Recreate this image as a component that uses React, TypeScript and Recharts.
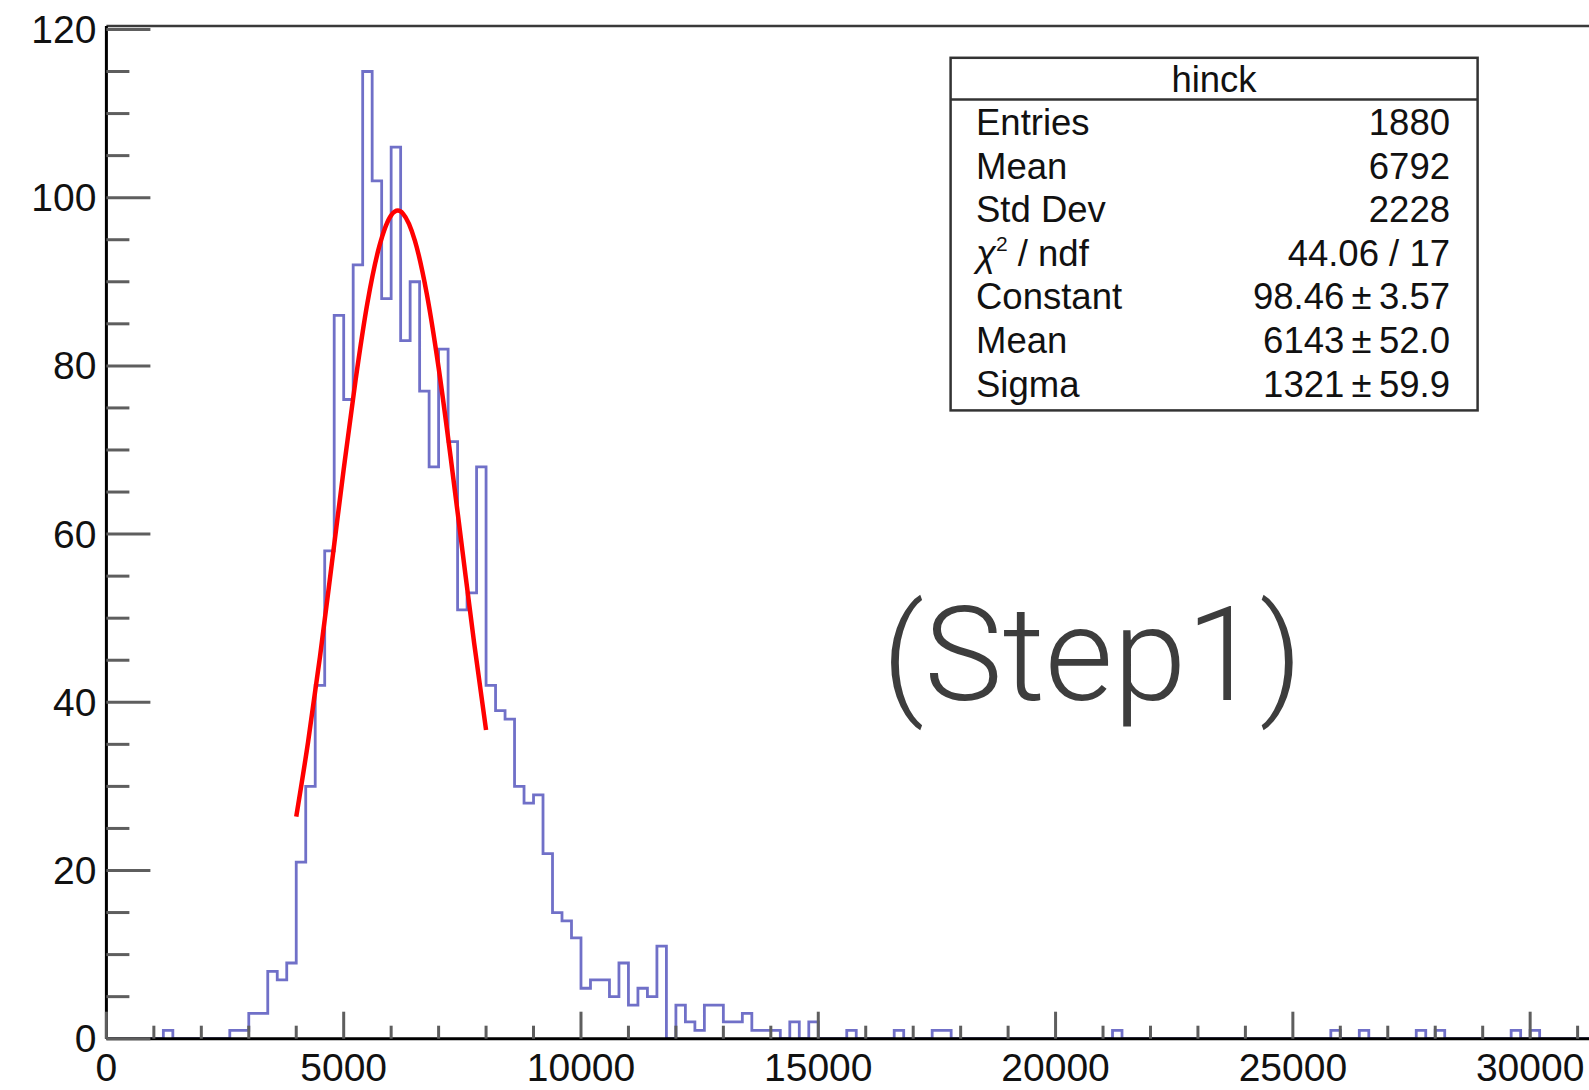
import React from "react";
import { ComposedChart, Line, XAxis, YAxis, ReferenceLine } from "recharts";

// ---- data ----
const binWidth = 200; // histogram bin width
// counts per bin, bins starting at 0, 200, 400, ...
const counts = [
  0, 0, 0, 0, 0, 0, 1, 0, 0, 0,
  0, 0, 0, 1, 1, 3, 3, 8, 7, 9,
  21, 30, 42, 58, 86, 76, 92, 115, 102, 88,
  106, 83, 90, 77, 68, 82, 71, 51, 53, 68,
  42, 39, 38, 30, 28, 29, 22, 15, 14, 12,
  6, 7, 7, 5, 9, 4, 6, 5, 11, 0,
  4, 2, 1, 4, 4, 2, 2, 3, 1, 1,
  1, 0, 2, 0, 2, 0, 0, 0, 1, 0,
  0, 0, 0, 1, 0, 0, 0, 1, 1, 0,
  0, 0, 0, 0, 0, 0, 0, 0, 0, 0,
  0, 0, 0, 0, 0, 0, 1, 0, 0, 0,
  0, 0, 0, 0, 0, 0, 0, 0, 0, 0,
  0, 0, 0, 0, 0, 0, 0, 0, 0, 1,
  0, 0, 1, 0, 0, 0, 0, 0, 1, 0,
  1, 0, 0, 0, 0, 0, 0, 0, 1, 0,
  1, 0, 0, 0, 0, 0, 0,
];

// red fit curve
const fitX = [4000, 4250, 4500, 4750, 5000, 5250, 5500, 5750, 6000, 6143, 6250, 6500, 6750, 7000, 7250, 7500, 7750, 8000];
const fitY = [26.4, 35.3, 45.4, 56.5, 67.7, 78.3, 87.5, 94.2, 97.9, 98.46, 98.1, 94.9, 88.6, 79.8, 69.3, 58.1, 47.0, 36.7];

const xTicks = [
  0, 1000, 2000, 3000, 4000, 5000, 6000, 7000, 8000, 9000, 10000,
  11000, 12000, 13000, 14000, 15000, 16000, 17000, 18000, 19000, 20000,
  21000, 22000, 23000, 24000, 25000, 26000, 27000, 28000, 29000, 30000, 31000,
];
const yTicks = [0, 5, 10, 15, 20, 25, 30, 35, 40, 45, 50, 55, 60, 65, 70, 75, 80, 85, 90, 95, 100, 105, 110, 115, 120];

const statsTitle = "hinck";
const statsLabels = ["Entries", "Mean", "Std Dev", "CHI", "Constant", "Mean", "Sigma"];
const statsValues = ["1880", "6792", "2228", "44.06 / 17", "98.46\u2009\u00b1\u20093.57", "6143\u2009\u00b1\u200952.0", "1321\u2009\u00b1\u200959.9"];

// ---- built tables ----
const histData = counts.map((c, i) => ({ x: i * binWidth, h: c }));
histData.push({ x: counts.length * binWidth, h: counts[counts.length - 1] });
const fitData = fitX.map((x, i) => ({ x, f: fitY[i] }));

const FONT = "'Liberation Sans', Arial, Helvetica, sans-serif";
const TICK_COLOR = "#5e5e5e";
const LABEL_SIZE = 39;

const YTick = (props: any) => {
  const { x, y, payload } = props;
  const v = payload.value as number;
  const major = v % 20 === 0;
  return (
    <g>
      <line x1={x} x2={x + (major ? 44 : 23)} y1={y} y2={y} stroke={TICK_COLOR} strokeWidth={3} />
      {major && (
        <text x={x - 10} y={y + 13.5} textAnchor="end" fontSize={LABEL_SIZE} fontFamily={FONT} fill="#111">
          {v}
        </text>
      )}
    </g>
  );
};

const XTick = (props: any) => {
  const { x, y, payload } = props;
  const v = payload.value as number;
  const major = v % 5000 === 0;
  return (
    <g>
      <line x1={x} x2={x} y1={y} y2={y - (major ? 27 : 13)} stroke={TICK_COLOR} strokeWidth={3} />
      {major && (
        <text x={x} y={y + 42} textAnchor="middle" fontSize={LABEL_SIZE} fontFamily={FONT} fill="#111">
          {v}
        </text>
      )}
    </g>
  );
};

const yMax = 120.4;
const xMax = 31240;

export default function App() {
  return (
    <div style={{ position: "absolute", left: 0, top: 0, width: 1589, height: 1090, background: "#fff" }}>
      <ComposedChart
        width={1589}
        height={1090}
        data={histData}
        margin={{ top: 26.1, right: 0, bottom: 11.3, left: 0 }}
      >
        <XAxis
          type="number"
          dataKey="x"
          domain={[0, xMax]}
          ticks={xTicks}
          interval={0}
          allowDataOverflow
          height={40}
          tickSize={0}
          tickMargin={0}
          tickLine={false}
          axisLine={{ stroke: "#000", strokeWidth: 3 }}
          tick={<XTick />}
        />
        <YAxis
          type="number"
          domain={[0, yMax]}
          ticks={yTicks}
          interval={0}
          allowDataOverflow
          width={106.4}
          tickSize={0}
          tickMargin={0}
          tickLine={false}
          axisLine={{ stroke: "#000", strokeWidth: 3 }}
          tick={<YTick />}
        />
        <ReferenceLine y={yMax} stroke="#3a3a3a" strokeWidth={2.5} ifOverflow="visible" />
        <Line
          dataKey="h"
          type="stepAfter"
          stroke="#7070c8"
          strokeWidth={2.8}
          dot={false}
          activeDot={false}
          isAnimationActive={false}
        />
        <Line
          data={fitData}
          dataKey="f"
          type="monotone"
          stroke="#ff0000"
          strokeWidth={4.5}
          dot={false}
          activeDot={false}
          isAnimationActive={false}
        />
      </ComposedChart>
      <svg
        width={1589}
        height={1090}
        style={{ position: "absolute", left: 0, top: 0, pointerEvents: "none" }}
      >
        <rect x={950.6} y={57.8} width={527} height={352.6} fill="#fff" stroke="#333" strokeWidth={2.5} />
        <line x1={950.6} x2={1477.6} y1={99.5} y2={99.5} stroke="#333" strokeWidth={2.5} />
        <text x={1214} y={92} textAnchor="middle" fontSize={36.5} fontFamily={FONT} fill="#111">
          {statsTitle}
        </text>
        {statsLabels.map((lab, i) => (
          <g key={i}>
            <text x={976} y={135 + 43.6 * i} fontSize={36.5} fontFamily={FONT} fill="#111">
              {lab === "CHI" ? (
                <>
                  <tspan fontStyle="italic">χ</tspan>
                  <tspan fontSize={21} dy={-15}>2</tspan>
                  <tspan dy={15}> / ndf</tspan>
                </>
              ) : (
                lab
              )}
            </text>
            <text x={1450} y={135 + 43.6 * i} textAnchor="end" fontSize={36.5} fontFamily={FONT} fill="#111">
              {statsValues[i]}
            </text>
          </g>
        ))}
        <text x={882} y={700} fontSize={132} fontFamily="Roboto, 'Open Sans', sans-serif" fontWeight={300} fill="#3d3d3d">
          (Step1)
        </text>
      </svg>
    </div>
  );
}
